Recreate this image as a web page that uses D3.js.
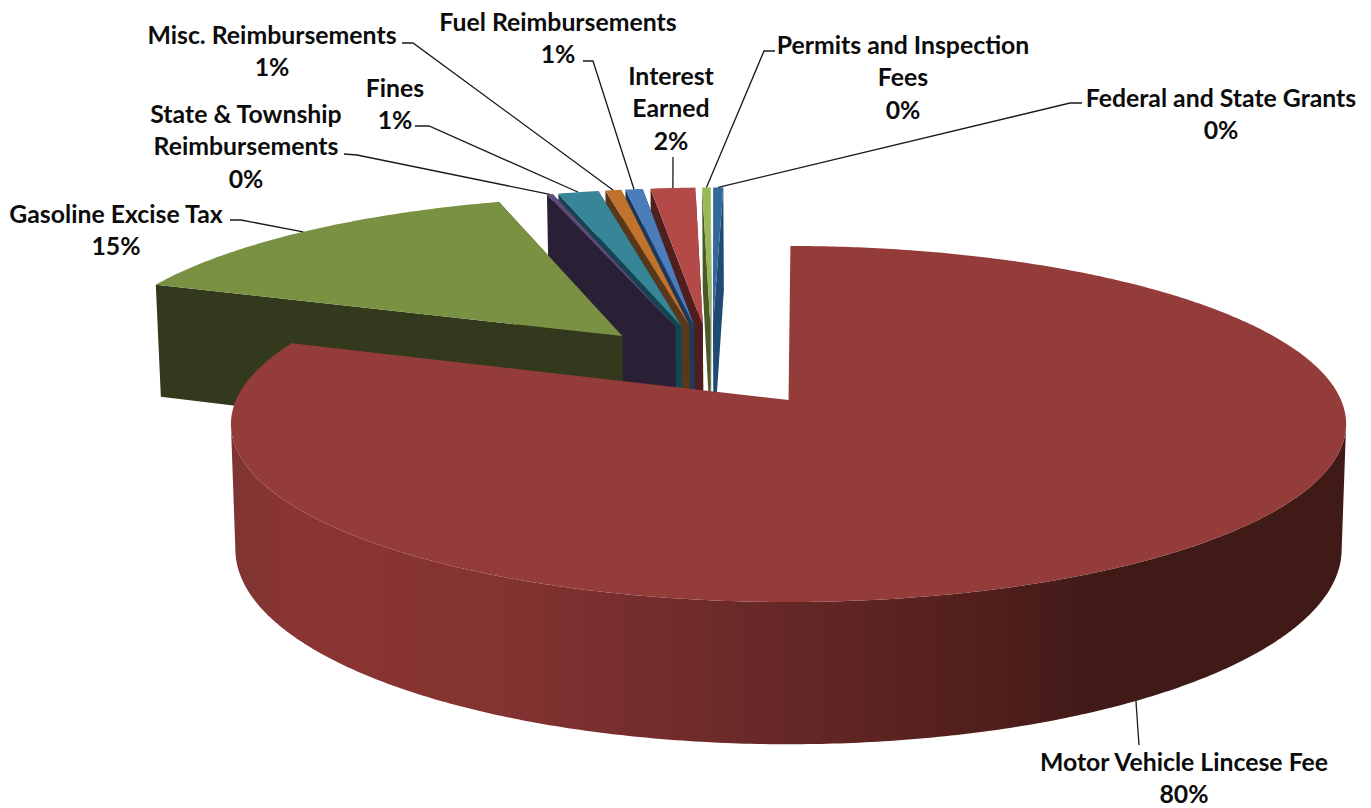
<!DOCTYPE html>
<html>
<head>
<meta charset="utf-8">
<script src="https://cdn.jsdelivr.net/npm/d3@7"></script>
<style>
  html, body { margin: 0; padding: 0; background: #fff; }
  text { font-family: Lato, "Open Sans", sans-serif; font-weight: 700; font-size: 24.8px; fill: #0c0c0c; }
</style>
</head>
<body>
<div id="chart"></div>
<script>
// share of revenue per source, clockwise from the top of the pie
var categories = ["Motor Vehicle Lincese Fee", "Gasoline Excise Tax", "State & Township Reimbursements", "Fines",
    "Misc. Reimbursements", "Fuel Reimbursements", "Interest Earned", "Permits and Inspection Fees", "Federal and State Grants"];
var values = [80.45, 14.6, 0.2, 1.4, 0.55, 0.6, 1.55, 0.3, 0.35];

// how each category name wraps in its label
var labelLines = [["Motor Vehicle Lincese Fee"], ["Gasoline Excise Tax"], ["State & Township", "Reimbursements"], ["Fines"],
    ["Misc. Reimbursements"], ["Fuel Reimbursements"], ["Interest", "Earned"], ["Permits and Inspection", "Fees"], ["Federal and State Grants"]];

var topColors = ["#943c39", "#7a9143", "#604a7b", "#378698", "#c1722c", "#4a7dba", "#b34a47", "#98b954", "#35689a"];
var wallColors = ["url(#motorWall)", "#33391c", "#2a2035", "#154552", "#59371a", "#1d3a5c", "#4f1f1e", "#4a5a27", "#1f4a73"];

// where the labels sit: centre x, y of first line, the elbow of the leader line, and where along the rim it lands
var labelPos = [
    { x: 1184, y: 762, leader: [[1139, 745]], rimAt: 0.5024 },
    { x: 116, y: 214, leader: [[230, 220], [241, 220]], rimAt: 0.5 },
    { x: 246, y: 114, leader: [[344, 154], [357, 155]], rimAt: 0.5 },
    { x: 395, y: 88, leader: [[415, 126], [429, 126]], rimAt: 0.5 },
    { x: 272, y: 35, leader: [[402, 43], [413, 43]], rimAt: 0.5 },
    { x: 558, y: 22, leader: [[583, 61], [593, 61]], rimAt: 0.5 },
    { x: 671, y: 76, leader: [[673, 157]], rimAt: 0.5 },
    { x: 903, y: 45, leader: [[775, 51], [764, 51]], rimAt: 0.5 },
    { x: 1221, y: 98, leader: [[1082, 103], [1070, 103]], rimAt: 0.5 }
];

var width = 1371, height = 808;

// projection of the pie's plane, fitted to the picture
var originX = 790, originY = 400, radiusX = 552.5, radiusY = 174.8, tilt = 0.135;
var thickness = 123, bottomShrink = 0.992;
var pieX = -0.146, pieD = 0.205, explode = 0.25;

function project(x, d, lower) {
    var s = 1 / (1 + tilt * d);
    var px = radiusX * x * s;
    var py = originY - radiusY * d * s;
    if (lower) {
        px = px * bottomShrink;
        py = py + thickness * s;
    }
    return [originX + px, py];
}

var svg = d3.select("#chart").append("svg")
    .attr("width", width)
    .attr("height", height)
    .style("display", "block");

var gradient = svg.append("defs").append("linearGradient")
    .attr("id", "motorWall")
    .attr("gradientUnits", "userSpaceOnUse")
    .attr("x1", 233).attr("x2", 1347).attr("y1", 0).attr("y2", 0);
[[0, "#7f3432"], [0.06, "#8a3533"], [0.24, "#833331"], [0.45, "#6b2a29"], [0.51, "#642726"], [0.69, "#4f1e1c"], [0.78, "#3f1a17"], [1, "#3f1a17"]]
    .forEach(function (stop) {
        gradient.append("stop").attr("offset", stop[0]).attr("stop-color", stop[1]);
    });

var pie = d3.pie()
    .sort(null)
    .value(function (d) { return d; })
    .startAngle(0.2 * Math.PI / 180)
    .endAngle(2 * Math.PI + 0.2 * Math.PI / 180);

var slices = pie(values);
var line = d3.line();

slices.forEach(function (s) {
    var mid = (s.startAngle + s.endAngle) / 2;
    s.mid = mid;
    s.apexX = pieX + explode * Math.sin(mid);
    s.apexD = pieD + explode * Math.cos(mid);
    var steps = Math.max(2, Math.ceil((s.endAngle - s.startAngle) / 0.01));
    s.arc = d3.range(steps + 1).map(function (i) {
        var a = s.startAngle + (s.endAngle - s.startAngle) * i / steps;
        return [s.apexX + Math.sin(a), s.apexD + Math.cos(a)];
    });
    // only the part of the rim facing the viewer shows a side wall
    s.frontRim = s.arc.filter(function (p) { return p[1] - s.apexD <= -tilt; });
});

function upper(p) { return project(p[0], p[1], false); }
function under(p) { return project(p[0], p[1], true); }

// paint from the back right slice forward, the big slice goes last
slices.slice().reverse().forEach(function (s) {
    var i = s.index;
    var apex = [s.apexX, s.apexD];
    var first = s.arc[0], last = s.arc[s.arc.length - 1];
    var g = svg.append("g");

    if (i > 0) {
        [first, last].forEach(function (edge) {
            g.append("path")
                .attr("d", line([upper(apex), upper(edge), under(edge), under(apex)]) + "Z")
                .attr("fill", wallColors[i]);
        });
    }
    if (s.frontRim.length) {
        g.append("path")
            .attr("d", line(s.frontRim.map(upper).concat(s.frontRim.slice().reverse().map(under))) + "Z")
            .attr("fill", wallColors[i]);
    }
    g.append("path")
        .attr("d", line([upper(apex)].concat(s.arc.map(upper))) + "Z")
        .attr("fill", topColors[i]);
});

// leader lines run from the label elbow to the slice's rim
var percent = d3.format(".0%");
var total = d3.sum(values);

slices.forEach(function (s, i) {
    var a = s.startAngle + (s.endAngle - s.startAngle) * labelPos[i].rimAt;
    var rim = [s.apexX + Math.sin(a), s.apexD + Math.cos(a)];
    var end = i === 0 ? under(rim) : upper(rim);
    svg.append("path")
        .attr("d", line(labelPos[i].leader.concat([end])))
        .attr("fill", "none")
        .attr("stroke", "#1a1a1a")
        .attr("stroke-width", 1.3);

    var rows = labelLines[i].concat([percent(values[i] / total)]);
    var label = svg.append("text")
        .attr("text-anchor", "middle")
        .attr("aria-label", categories[i]);
    rows.forEach(function (row, j) {
        label.append("tspan")
            .attr("x", labelPos[i].x)
            .attr("y", labelPos[i].y + j * 32.7)
            .attr("dy", "0.35em")
            .text(row);
    });
});
</script>
</body>
</html>
